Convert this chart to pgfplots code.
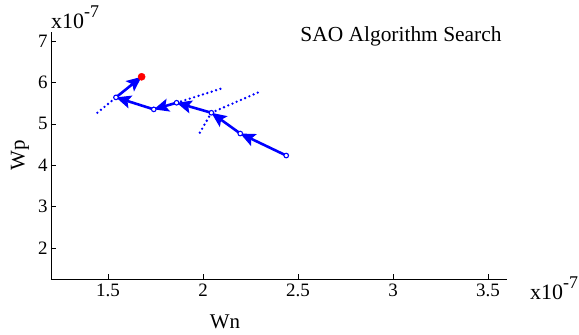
\documentclass[border=0pt]{standalone}
\usepackage{fontspec}
\setmainfont{Liberation Serif}
\usepackage{pgfplots}
\pgfplotsset{compat=1.18}
\usetikzlibrary{arrows.meta}
\newcommand{\sci}{x10\raisebox{0.5em}{\fontsize{18}{18}\selectfont -7}}
\begin{document}
\begin{tikzpicture}[x=1bp,y=1bp]
\path[use as bounding box] (-51,-55) rectangle (528,279);
\begin{axis}[
  at={(0,0)}, anchor=south west,
  width=456bp, height=247bp, scale only axis,
  xmin=1.2, xmax=3.6, ymin=1.25, ymax=7.22,
  axis x line*=bottom, axis y line*=left,
  xtick={1.5,2,2.5,3,3.5}, ytick={2,3,4,5,6,7},
  xticklabels={1.5,2,2.5,3,3.5},
  yticklabels={2,3,4,5,6,7},
  tick align=inside, major tick length=5bp,
  tick style={black, line width=0.6pt},
  axis line style={black, line width=0.8pt},
  ticklabel style={font=\fontsize{19}{19}\selectfont},
  xticklabel style={yshift=-1bp},
  /pgf/number format/assume math mode=true,
  clip=false,
]
% dotted search lines
\addplot[blue, line width=2.6bp, dash pattern=on 0pt off 4.6bp, line cap=round] coordinates {(1.444,5.268) (1.542,5.640)};
\addplot[blue, line width=2.6bp, dash pattern=on 0pt off 4.6bp, line cap=round] coordinates {(1.861,5.510) (2.098,5.855)};
\addplot[blue, line width=2.6bp, dash pattern=on 0pt off 4.6bp, line cap=round] coordinates {(2.044,5.268) (2.298,5.775)};
\addplot[blue, line width=2.6bp, dash pattern=on 0pt off 4.6bp, line cap=round] coordinates {(2.044,5.268) (1.978,4.746)};
% solid steps with arrowheads
\addplot[blue, line width=2.6bp, -{Stealth[length=15bp,width=13bp,inset=3bp]}] coordinates {(2.438,4.234) (2.196,4.766)};
\addplot[blue, line width=2.6bp, -{Stealth[length=15bp,width=13bp,inset=3bp]}] coordinates {(2.196,4.766) (2.044,5.268)};
\addplot[blue, line width=2.6bp, -{Stealth[length=15bp,width=13bp,inset=3bp]}] coordinates {(2.044,5.268) (1.861,5.510)};
\addplot[blue, line width=2.6bp, -{Stealth[length=15bp,width=13bp,inset=3bp]}] coordinates {(1.861,5.510) (1.741,5.350)};
\addplot[blue, line width=2.6bp, -{Stealth[length=15bp,width=13bp,inset=3bp]}] coordinates {(1.741,5.350) (1.542,5.640)};
\addplot[blue, line width=2.6bp, -{Stealth[length=15bp,width=13bp,inset=3bp]}] coordinates {(1.542,5.640) (1.677,6.138)};
% points
\addplot[only marks, mark=*, mark size=2.3bp, mark options={draw=blue, fill=white, line width=1.1bp}] coordinates {(2.438,4.234) (2.196,4.766) (2.044,5.268) (1.861,5.510) (1.741,5.350) (1.542,5.640)};
\addplot[only marks, mark=*, mark size=3.6bp, mark options={draw=red, fill=red}] coordinates {(1.677,6.138)};
\end{axis}
\node[anchor=base, font=\fontsize{21.5}{21.5}\selectfont] at (350,238) {SAO Algorithm Search};
\node[anchor=base west, inner sep=0pt, font=\fontsize{22}{22}\selectfont] at (0,251) {\sci};
\node[anchor=base west, inner sep=0pt, font=\fontsize{22}{22}\selectfont] at (479,-20) {\sci};
\node[font=\fontsize{21}{21}\selectfont] at (174,-43) {Wn};
\node[rotate=90, font=\fontsize{21}{21}\selectfont] at (-31,124) {Wp};
\end{tikzpicture}
\end{document}
